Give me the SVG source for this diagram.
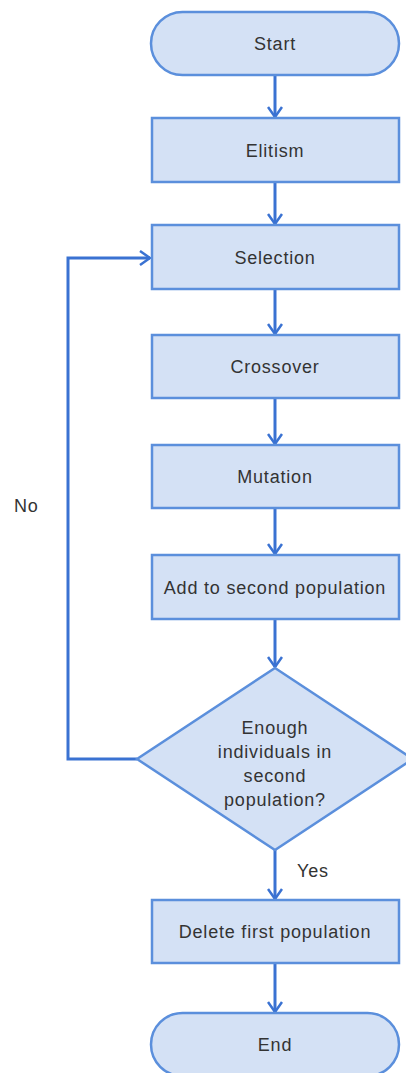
<svg xmlns="http://www.w3.org/2000/svg" width="406" height="1073" viewBox="0 0 406 1073">
  <style>
    .shape { fill: #d4e1f5; stroke: #5b8fdc; stroke-width: 2.5; }
    .label { font-family: "Liberation Sans", Arial, sans-serif; font-size: 18px; letter-spacing: 0.8px; fill: #333333; text-anchor: middle; }
    .edge { fill: none; stroke: #3a72d2; stroke-width: 3; }
    .note { font-family: "Liberation Sans", Arial, sans-serif; font-size: 18px; letter-spacing: 0.8px; fill: #333333; }
  </style>
  <defs>
    <marker id="arrow" viewBox="0 0 12 16" refX="11" refY="8" markerWidth="12" markerHeight="16" markerUnits="userSpaceOnUse" orient="auto">
      <path d="M1,1 L11,8 L1,15" fill="none" stroke="#3a72d2" stroke-width="2.5"/>
    </marker>
  </defs>
  <rect width="406" height="1073" fill="#ffffff"/>

  <g id="connectors">
    <line class="edge" x1="275" y1="75" x2="275" y2="117" marker-end="url(#arrow)"/>
    <line class="edge" x1="275" y1="182" x2="275" y2="224" marker-end="url(#arrow)"/>
    <line class="edge" x1="275" y1="289" x2="275" y2="334" marker-end="url(#arrow)"/>
    <line class="edge" x1="275" y1="398" x2="275" y2="444" marker-end="url(#arrow)"/>
    <line class="edge" x1="275" y1="508" x2="275" y2="554" marker-end="url(#arrow)"/>
    <line class="edge" x1="275" y1="619" x2="275" y2="667" marker-end="url(#arrow)"/>
    <line class="edge" x1="275" y1="850" x2="275" y2="899" marker-end="url(#arrow)"/>
    <line class="edge" x1="275" y1="963" x2="275" y2="1012" marker-end="url(#arrow)"/>
    <polyline class="edge" points="137,759 68,759 68,258 150,258" marker-end="url(#arrow)"/>
    <text class="note" x="14" y="512">No</text>
    <text class="note" x="297" y="877">Yes</text>
  </g>

  <g id="start">
    <rect class="shape" x="151" y="12" width="248" height="63" rx="31.5" ry="31.5"/>
    <text class="label" x="275" y="50">Start</text>
  </g>
  <g id="elitism">
    <rect class="shape" x="152" y="118" width="247" height="64"/>
    <text class="label" x="275" y="156.5">Elitism</text>
  </g>
  <g id="selection">
    <rect class="shape" x="152" y="225" width="247" height="64"/>
    <text class="label" x="275" y="263.5">Selection</text>
  </g>
  <g id="crossover">
    <rect class="shape" x="152" y="335" width="247" height="63"/>
    <text class="label" x="275" y="373">Crossover</text>
  </g>
  <g id="mutation">
    <rect class="shape" x="152" y="445" width="247" height="63"/>
    <text class="label" x="275" y="483">Mutation</text>
  </g>
  <g id="add-second">
    <rect class="shape" x="152" y="555" width="247" height="64"/>
    <text class="label" x="275" y="593.5">Add to second population</text>
  </g>
  <g id="decision">
    <polygon class="shape" points="275,668 413,759 275,850 137,759"/>
    <text class="label" x="275" y="734">Enough</text>
    <text class="label" x="275" y="758">individuals in</text>
    <text class="label" x="275" y="782">second</text>
    <text class="label" x="275" y="806">population?</text>
  </g>
  <g id="delete-first">
    <rect class="shape" x="152" y="900" width="247" height="63"/>
    <text class="label" x="275" y="938">Delete first population</text>
  </g>
  <g id="end">
    <rect class="shape" x="151" y="1013" width="248" height="63" rx="31.5" ry="31.5"/>
    <text class="label" x="275" y="1051">End</text>
  </g>
</svg>
